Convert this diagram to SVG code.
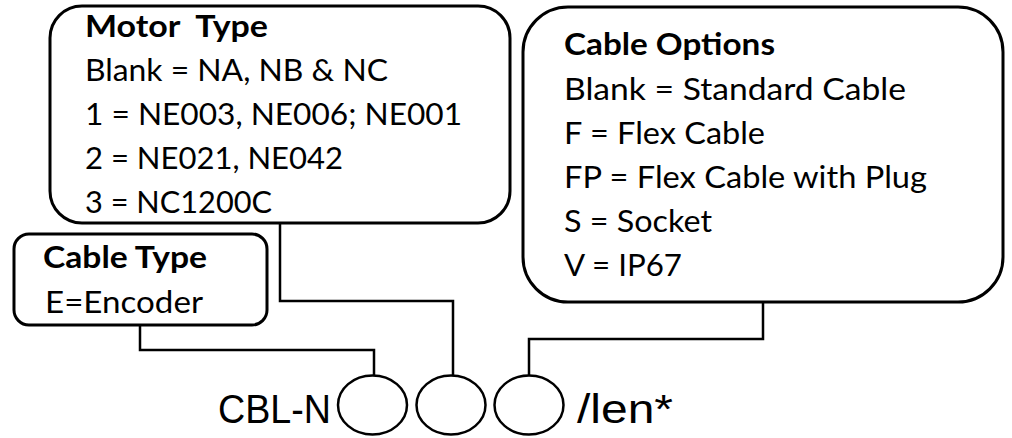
<svg xmlns="http://www.w3.org/2000/svg" width="1012" height="438" viewBox="0 0 1012 438">
<style>
.box{fill:#fff;stroke:#000;stroke-width:3}
.wire{fill:none;stroke:#000;stroke-width:2.5}
.slot{fill:#fff;stroke:#000;stroke-width:2.5}
.t{font-family:Lato,"Open Sans",sans-serif;font-size:30px;fill:#000}
.h{font-weight:bold}
.code{font-family:"Liberation Sans",Arial,sans-serif;font-size:41px;fill:#000}
</style>
<rect width="1012" height="438" fill="#fff"/>
<g id="connectors">
<path class="wire" d="M280,223 V301 H453 V376"/>
<path class="wire" d="M140,325 V350 H374 V375"/>
<path class="wire" d="M763,302 V339 H529 V376"/>
</g>
<g id="motor-type">
<rect class="box" x="50" y="6" width="460" height="217" rx="32"/>
<text class="t h" x="85" y="37" xml:space="preserve" textLength="183" lengthAdjust="spacingAndGlyphs">Motor  Type</text>
<text class="t" x="85" y="81" textLength="303" lengthAdjust="spacingAndGlyphs">Blank = NA, NB &amp; NC</text>
<text class="t" x="85" y="125" textLength="377" lengthAdjust="spacingAndGlyphs">1 = NE003, NE006; NE001</text>
<text class="t" x="85" y="169" textLength="258" lengthAdjust="spacingAndGlyphs">2 = NE021, NE042</text>
<text class="t" x="85" y="213" textLength="187" lengthAdjust="spacingAndGlyphs">3 = NC1200C</text>
</g>
<g id="cable-options">
<rect class="box" x="523" y="7" width="480" height="295" rx="45"/>
<text class="t h" x="564" y="55" textLength="211" lengthAdjust="spacingAndGlyphs">Cable Options</text>
<text class="t" x="564" y="100" textLength="342" lengthAdjust="spacingAndGlyphs">Blank = Standard Cable</text>
<text class="t" x="564" y="144" textLength="201" lengthAdjust="spacingAndGlyphs">F = Flex Cable</text>
<text class="t" x="564" y="188" textLength="363" lengthAdjust="spacingAndGlyphs">FP = Flex Cable with Plug</text>
<text class="t" x="564" y="232" textLength="148" lengthAdjust="spacingAndGlyphs">S = Socket</text>
<text class="t" x="564" y="276" textLength="118" lengthAdjust="spacingAndGlyphs">V = IP67</text>
</g>
<g id="cable-type">
<rect class="box" x="14" y="234" width="253" height="91" rx="15"/>
<text class="t h" x="43" y="268" textLength="164" lengthAdjust="spacingAndGlyphs">Cable Type</text>
<text class="t" x="45" y="313" textLength="158" lengthAdjust="spacingAndGlyphs">E=Encoder</text>
</g>
<g id="part-number">
<text class="code" x="218" y="423" textLength="113" lengthAdjust="spacingAndGlyphs">CBL-N</text>
<ellipse class="slot" cx="372.5" cy="405" rx="34.5" ry="29.5"/>
<ellipse class="slot" cx="451" cy="405" rx="34.5" ry="29.5"/>
<ellipse class="slot" cx="529" cy="405" rx="34.5" ry="29.5"/>
<text class="code" x="577" y="423" textLength="96" lengthAdjust="spacingAndGlyphs">/len*</text>
</g>
</svg>
